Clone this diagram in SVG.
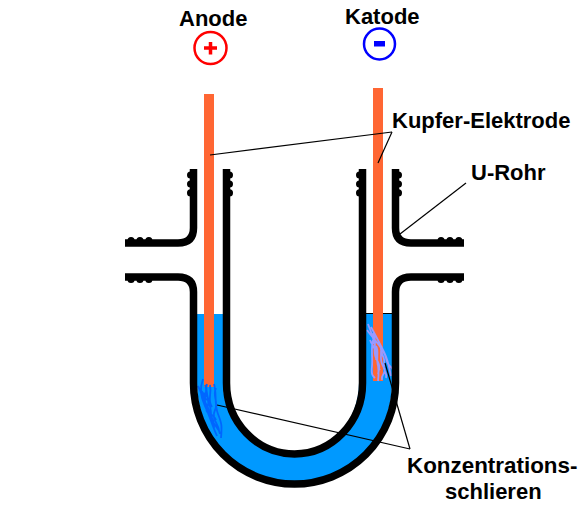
<svg xmlns="http://www.w3.org/2000/svg" width="580" height="508" viewBox="0 0 580 508">
<style>
.w{fill:none;stroke:#000;stroke-width:7.500}
.d{fill:none;stroke:#000;stroke-width:7;stroke-dasharray:.1 8.800;stroke-linecap:round}
.e{fill:#f63}
.l{fill:none;stroke:#000;stroke-width:1.200}
text{font-family:"Liberation Sans",Arial,sans-serif;font-weight:bold;font-size:22px;fill:#000}
.s1{fill:none;stroke:#06f;stroke-width:1.800}
.s2{fill:none;stroke:#99f;stroke-width:1.800}
</style>
<rect width="580" height="508" fill="#fff"/>
<g id="fluid">
<path d="M197 314H223V383A68 71 0 0 0 359 383V313H392V383A97 100 0 0 1 197 383Z" fill="#09f"/>
<path d="M359 313.500H392" stroke="#000" stroke-width="1"/>
</g>
<g id="electrode-anode"><rect class="e" x="204" y="94" width="10" height="293"/></g>
<g id="electrode-katode"><rect class="e" x="373" y="88" width="10" height="293"/></g>
<g id="schlieren-anode">
<path class="s1" d="M203 379C199 390 201 398 205 406S212 425 217 436M207 384C204 392 211 403 211 414S219 426 220 434M198 386C203 396 205 404 209 412S214 420 214 428M214 384C217 394 214 404 218 414S222 426 221 438M201 394C207 390 210 402 207 408S213 412 216 420M210 385C212 395 207 400 212 407M205 385C209 392 202 398 206 404S209 414 212 418M216 388C212 396 219 402 215 410S218 424 219 430M200 390C205 392 203 400 208 400"/>
</g>
<g id="schlieren-katode">
<path class="s2" d="M368 324C372 334 375 342 376 352S380 368 378 381M371 327C376 336 380 344 384 352S389 366 391 376M374 338C370 346 373 356 372 366S373 376 375 378M379 342C384 350 378 358 383 366S380 374 382 380M367 330C374 340 384 348 386 358S392 366 393 370M376 346C380 352 374 362 380 370M373 333C378 342 372 350 376 358S380 366 378 374M382 346C378 352 386 356 384 364S388 372 386 378M370 340C373 348 378 350 376 360"/>
</g>
<g id="u-rohr">
<path class="w" d="M125 243H178Q193.500 243 193.500 228V169"/>
<path class="w" d="M125 277H178Q193.500 277 193.500 292V383A101 101 0 0 0 395.500 383V292Q395.500 277 411 277H464"/>
<path class="w" d="M226.500 169V383A68 71 0 0 0 362.500 383V169"/>
<path class="w" d="M464 243H411Q395.500 243 395.500 228V169"/>
<path class="d" d="M190.500 175V194"/>
<path class="d" d="M398.500 175V194"/>
<path class="d" d="M359.500 175V194"/>
<path class="d" d="M229.500 175V194"/>
<path class="d" d="M131 240.500H149"/>
<path class="d" d="M131 279.500H149"/>
<path class="d" d="M441 240.500H459"/>
<path class="d" d="M441 279.500H459"/>
</g>
<g id="connectors">
<path class="l" d="M210 155L392 132"/>
<path class="l" d="M378 163L392 132"/>
<path class="l" d="M400 234L466 183"/>
<path class="l" d="M217 405L410 449"/>
<path class="l" d="M385 363L410 449"/>
</g>
<g id="anode">
<text x="179" y="26">Anode</text>
<circle cx="210.500" cy="48" r="16" fill="none" stroke="#f00" stroke-width="2.500"/>
<path d="M204 48H217M210.500 42V54.500" fill="none" stroke="#f00" stroke-width="3.500"/>
</g>
<g id="katode">
<text x="345" y="24">Katode</text>
<circle cx="379.500" cy="44" r="15.500" fill="none" stroke="#00f" stroke-width="2.500"/>
<rect x="374" y="41" width="11" height="5.500" fill="#00f"/>
</g>
<g id="labels">
<text x="392" y="128">Kupfer-Elektrode</text>
<text x="471" y="180">U-Rohr</text>
<text x="407" y="473" font-size="22.400" style="font-size:22.400px">Konzentrations-</text>
<text x="445" y="499">schlieren</text>
</g>
</svg>
